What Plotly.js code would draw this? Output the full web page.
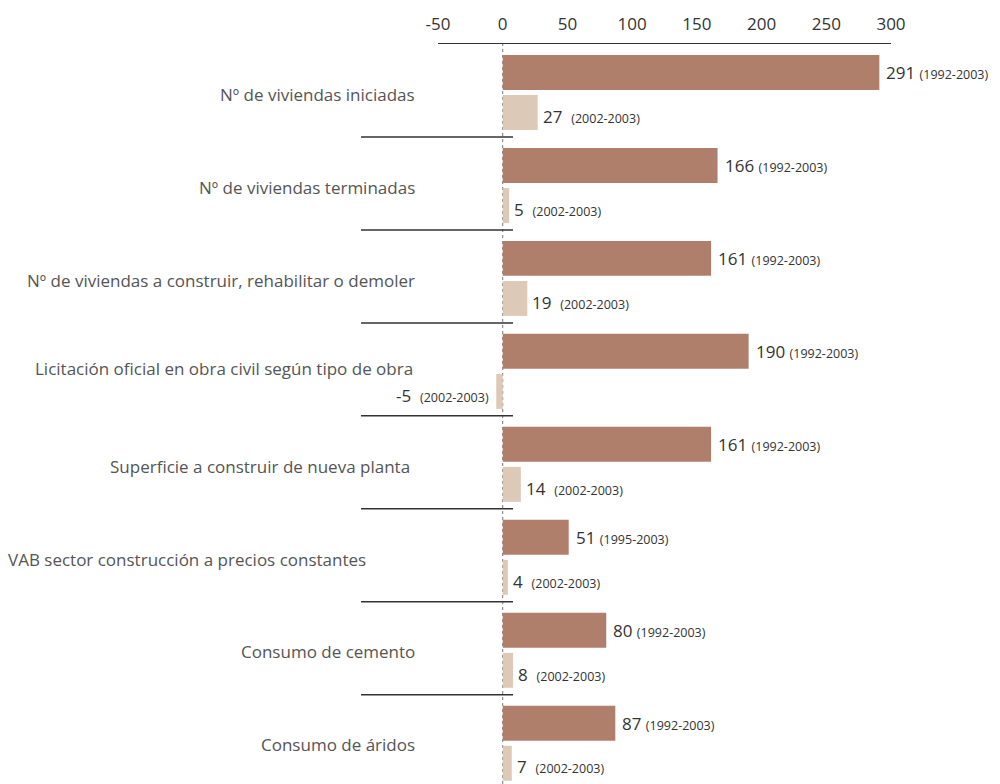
<!DOCTYPE html>
<html>
<head>
<meta charset="utf-8">
<script src="https://cdn.plot.ly/plotly-3.0.1.min.js"></script>
<style>html,body{margin:0;padding:0;background:#fff;}#chart{width:1000px;height:784px;}</style>
</head>
<body>
<div id="chart"></div>
<script>
const categories = [
  "Nº de viviendas iniciadas",
  "Nº de viviendas terminadas",
  "Nº de viviendas a construir, rehabilitar o demoler",
  "Licitación oficial en obra civil según tipo de obra",
  "Superficie a construir de nueva planta",
  "VAB sector construcción a precios constantes",
  "Consumo de cemento",
  "Consumo de áridos"
];
const longValues = [291, 166, 161, 190, 161, 51, 80, 87];
const longPeriods = ["1992-2003","1992-2003","1992-2003","1992-2003","1992-2003","1995-2003","1992-2003","1992-2003"];
const shortValues = [27, 5, 19, -5, 14, 4, 8, 7];
const shortPeriods = ["2002-2003","2002-2003","2002-2003","2002-2003","2002-2003","2002-2003","2002-2003","2002-2003"];
const tickValues = [-50, 0, 50, 100, 150, 200, 250, 300];

// layout helpers (styling/positioning only)
const W = 1000, H = 784, ML = 438, MR = 109, MT = 44, MB = 0;
const plotW = W - ML - MR;
const px2paper = p => (p - ML) / plotW;
const labelRightEdges = [417, 417, 417, 415, 412, 368, 417, 417];
const labelYOff = [0.54, 0.54, 0.54, 0.49, 0.54, 0.54, 0.54, 0.54];
const darkOff = 0.306, lightOff = 0.737;
const darkColor = "#b07f6c", lightColor = "#ddc9b7";
const FONT = "Open Sans, Liberation Sans, sans-serif";

const idx = categories.map((_, i) => i);
const traces = [
  {type: "bar", orientation: "h", x: longValues, y: idx.map(i => i + darkOff), width: 0.376,
   marker: {color: darkColor}, hoverinfo: "skip", showlegend: false},
  {type: "bar", orientation: "h", x: shortValues, y: idx.map(i => i + lightOff), width: 0.376,
   marker: {color: lightColor}, hoverinfo: "skip", showlegend: false}
];

const annotations = [];
categories.forEach((c, i) => {
  annotations.push({xref: "paper", yref: "y", x: px2paper(labelRightEdges[i]), y: i + labelYOff[i],
    text: c, showarrow: false, xanchor: "right", yanchor: "middle",
    font: {family: FONT, size: 17, color: "#555"}});
  annotations.push({xref: "x", yref: "y", x: longValues[i], y: i + darkOff, xshift: longValues[i] >= 0 ? 5 : -5,
    text: longValues[i] + ' <span style="font-size:12.5px">(' + longPeriods[i] + ')</span>',
    showarrow: false, xanchor: longValues[i] >= 0 ? "left" : "right", yanchor: "middle",
    font: {family: FONT, size: 17, color: "#333"}});
  annotations.push({xref: "x", yref: "y", x: shortValues[i], y: i + lightOff + 0.04, xshift: shortValues[i] >= 0 ? 3 : -5,
    text: shortValues[i] + '&nbsp; <span style="font-size:12.5px">(' + shortPeriods[i] + ')</span>',
    showarrow: false, xanchor: shortValues[i] >= 0 ? "left" : "right", yanchor: "middle",
    font: {family: FONT, size: 17, color: "#333"}});
});

const shapes = [];
for (let i = 1; i < categories.length; i++) {
  shapes.push({type: "line", xref: "paper", yref: "y", x0: px2paper(361), x1: px2paper(513), y0: i, y1: i,
    line: {color: "#333", width: 1.5}});
}
shapes.push({type: "line", xref: "x", yref: "paper", x0: 0, x1: 0, y0: 0, y1: 1,
  line: {color: "#777", width: 1, dash: "dot"}, layer: "below"});

const layout = {
  width: W, height: H,
  margin: {l: ML, r: MR, t: MT, b: MB},
  paper_bgcolor: "#fff", plot_bgcolor: "#fff",
  barmode: "overlay",
  xaxis: {side: "top", range: [-50, 300], tickvals: tickValues, ticktext: tickValues.map(String),
    showline: true, linecolor: "#333", linewidth: 1.5, showgrid: false, zeroline: false,
    ticks: "", ticklabelstandoff: 6, tickfont: {family: FONT, size: 17, color: "#333"}, fixedrange: true},
  yaxis: {range: [7.96, 0], visible: false, showgrid: false, zeroline: false, fixedrange: true},
  annotations: annotations,
  shapes: shapes,
  showlegend: false
};

Plotly.newPlot("chart", traces, layout, {displayModeBar: false, staticPlot: true});
</script>
</body>
</html>
